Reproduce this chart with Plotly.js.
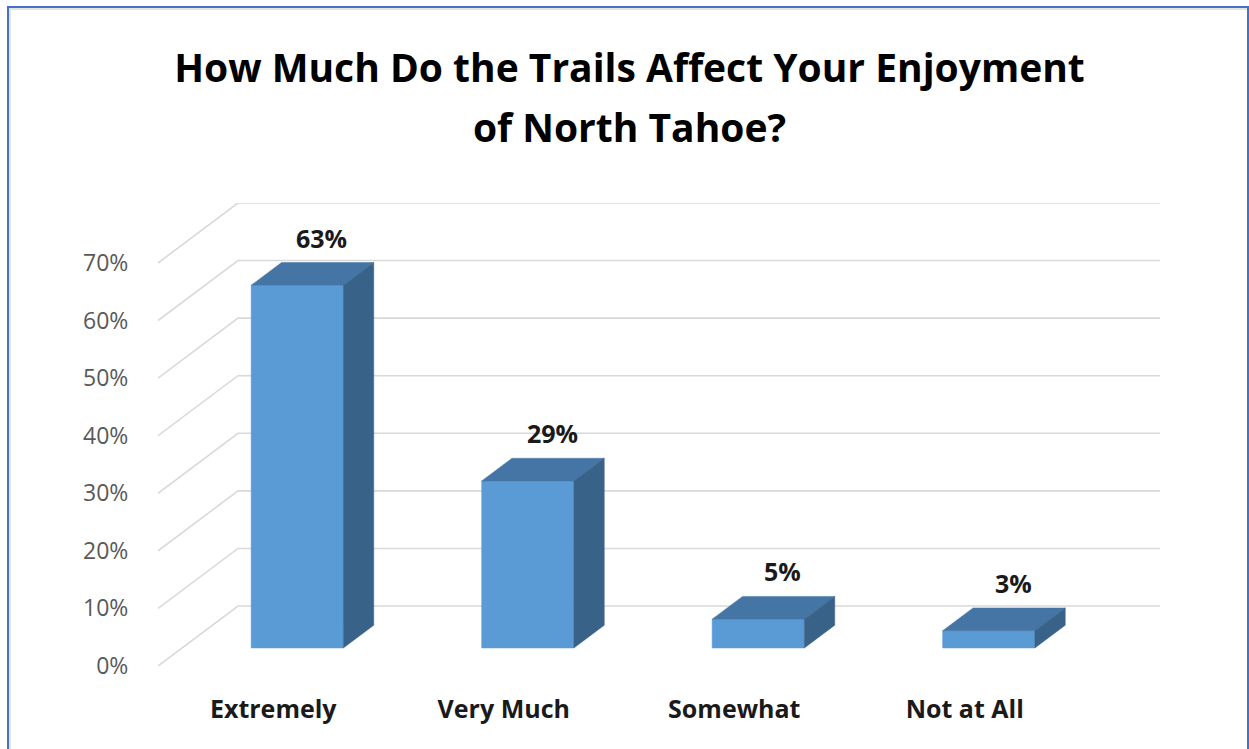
<!DOCTYPE html>
<html>
<head>
<meta charset="utf-8">
<script src="https://cdn.plot.ly/plotly-3.0.1.min.js"></script>
<style>
  html, body { margin: 0; padding: 0; background: #ffffff; }
  #wrap { position: relative; width: 1249px; height: 749px; overflow: hidden; }
  #chart { width: 1249px; height: 749px; }
  #frame { position: absolute; left: 7px; top: 6px; width: 1242px; height: 800px;
           box-sizing: border-box; border: 2px solid #4472C4; border-bottom: none;
           box-shadow: inset 2px 2px 0 #e3e3e3; pointer-events: none; }
</style>
</head>
<body>
<div id="wrap"><div id="chart"></div><div id="frame"></div></div>
<script>
// ---- data ----
var categories = ["Extremely", "Very Much", "Somewhat", "Not at All"];
var values = [63, 29, 5, 3];
var valueLabels = ["63%", "29%", "5%", "3%"];
var tickValues = [0, 10, 20, 30, 40, 50, 60, 70];
var tickLabels = ["0%", "10%", "20%", "30%", "40%", "50%", "60%", "70%"];
var chartTitle = "How Much Do the Trails Affect Your Enjoyment<br>of North Tahoe?";

// ---- oblique 3D projection settings (in axis units) ----
var DX = 0.347;   // full wall depth along x (category units)
var DY = 10.42;   // full wall depth along y (percent units)
var T0 = 0.30, T1 = 0.68;  // bar front / back depth fraction
var HW = 0.2;     // half bar width (category units)
var XMIN = -0.5, XMAX = categories.length - 0.5;
var YMAX = tickValues[tickValues.length - 1];

var cFront = "rgb(91,155,213)", cTop = "rgb(68,117,164)", cSide = "rgb(57,98,137)";

var traces = [];
// gridlines: side wall + back wall
var gx = [], gy = [];
tickValues.forEach(function (v) {
  gx.push(XMIN, XMIN + DX, XMAX + DX, null);
  gy.push(v, v + DY, v + DY, null);
});
traces.push({type: "scatter", mode: "lines", x: gx, y: gy, hoverinfo: "skip",
  line: {color: "#d9d9d9", width: 1.6}, showlegend: false});

function poly(xs, ys, color) {
  traces.push({type: "scatter", mode: "lines", x: xs.concat([xs[0]]), y: ys.concat([ys[0]]),
    fill: "toself", fillcolor: color, line: {color: color, width: 0.5},
    hoverinfo: "skip", showlegend: false});
}

var annotations = [];
values.forEach(function (v, i) {
  var xl0 = i - HW + DX * T0, xr0 = i + HW + DX * T0;
  var xl1 = i - HW + DX * T1, xr1 = i + HW + DX * T1;
  var yb0 = DY * T0, yb1 = DY * T1, yt0 = v + DY * T0, yt1 = v + DY * T1;
  poly([xl0, xr0, xr0, xl0], [yb0, yb0, yt0, yt0], cFront);           // front
  poly([xl0, xr0, xr1, xl1], [yt0, yt0, yt1, yt1], cTop);             // top
  poly([xr0, xr1, xr1, xr0], [yb0, yb1, yt1, yt0], cSide);            // side
  annotations.push({x: i + DX * T1, y: yt1, xref: "x", yref: "y", text: "<b>" + valueLabels[i] + "</b>",
    showarrow: false, yanchor: "middle", xanchor: "center", yshift: 25, xshift: -6,
    font: {family: "Open Sans, sans-serif", size: 25, color: "#1a1a1a"}});
});

var layout = {
  width: 1249, height: 749,
  paper_bgcolor: "#ffffff", plot_bgcolor: "rgba(0,0,0,0)",
  margin: {l: 158, r: 89, t: 203, b: 83},
  title: {text: "<b>" + chartTitle + "</b>", x: 0.504, xanchor: "center", y: 0.89, yref: "container", yanchor: "top",
    font: {family: "Open Sans, sans-serif", size: 39, color: "#000000"}},
  xaxis: {range: [XMIN, XMAX + DX], tickvals: categories.map(function (c, i) { return i; }),
    ticktext: categories.map(function (c) { return "<b>" + c + "</b>"; }),
    showgrid: false, zeroline: false, showline: false, ticks: "outside", ticklen: 21,
    tickcolor: "rgba(0,0,0,0)", tickfont: {family: "Open Sans, sans-serif", size: 25, color: "#1a1a1a"},
    fixedrange: true},
  yaxis: {range: [0, YMAX + DY], tickvals: tickValues, ticktext: tickLabels,
    showgrid: false, zeroline: false, showline: false, ticks: "outside", ticklen: 24,
    tickcolor: "rgba(0,0,0,0)", tickfont: {family: "Open Sans, sans-serif", size: 23, color: "#595959"},
    fixedrange: true},
  annotations: annotations,
  showlegend: false
};

Plotly.newPlot("chart", traces, layout, {staticPlot: true, displayModeBar: false}).then(function () {
  var lines = document.querySelectorAll(".gtitle tspan.line");
  if (lines.length > 1) { lines[1].setAttribute("dy", "1.52em"); }
});
</script>
</body>
</html>
